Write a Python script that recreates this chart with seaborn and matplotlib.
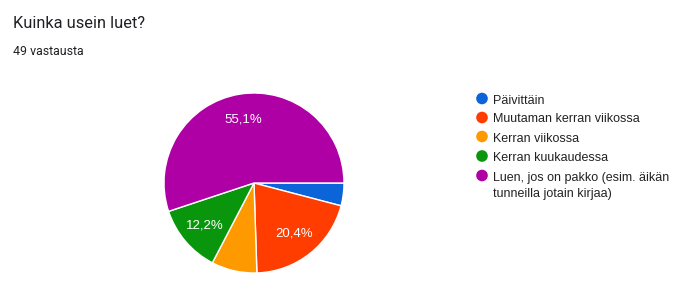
import matplotlib
matplotlib.use("Agg")
import matplotlib.pyplot as plt
import seaborn as sns

categories = ["Päivittäin", "Muutaman kerran viikossa", "Kerran viikossa",
              "Kerran kuukaudessa", "Luen, jos on pakko (esim. äikän\ntunneilla jotain kirjaa)"]
counts = [2, 10, 4, 6, 27]
title = "Kuinka usein luet?"
subtitle = "49 vastausta"

sns.set_theme(style="white")
palette = sns.color_palette(["#0b64d8", "#ff3d00", "#ff9900", "#0a960c", "#ae00a4"])

W, H = 676, 302
fig = plt.figure(figsize=(W / 100, H / 100), dpi=100)
fig.patch.set_facecolor("white")

# pie axes: center (254,183), radius 90 px
cx, cy, r = 254, 183, 90
ax = fig.add_axes([(cx - r) / W, (H - cy - r) / H, 2 * r / W, 2 * r / H])

def fmt(p):
    return ("%.1f%%" % p).replace(".", ",") if p > 10 else ""

wedges, texts, autotexts = ax.pie(
    counts, colors=palette, startangle=0, counterclock=False,
    autopct=fmt, pctdistance=0.72, radius=1,
    wedgeprops=dict(edgecolor="white", linewidth=1),
    textprops=dict(color="white", fontsize=9.5, family="Liberation Sans"))
ax.set_xlim(-1, 1)
ax.set_ylim(-1, 1)
ax.set_aspect("equal")
ax.axis("off")

# overlay axes in pixel coords for texts and legend
ov = fig.add_axes([0, 0, 1, 1])
ov.set_xlim(0, W)
ov.set_ylim(H, 0)
ov.axis("off")
ov.text(13, 28, title, fontsize=11.8, family="Roboto", color="#202124", va="baseline")
ov.text(13, 55, subtitle, fontsize=8.9, family="Roboto", color="#202124", va="baseline")

ys = [98.5, 117.5, 136.5, 156, 175.5]
ov.scatter([482] * len(ys), ys, s=70, c=palette, linewidths=0)
for y, lab in zip(ys, categories):
    for i, line in enumerate(lab.split("\n")):
        ov.text(493, y + 5 + 16 * i, line, fontsize=9, family="Liberation Sans",
                color="#222222", va="baseline")

fig.savefig("out.png", dpi=100, facecolor="white")
